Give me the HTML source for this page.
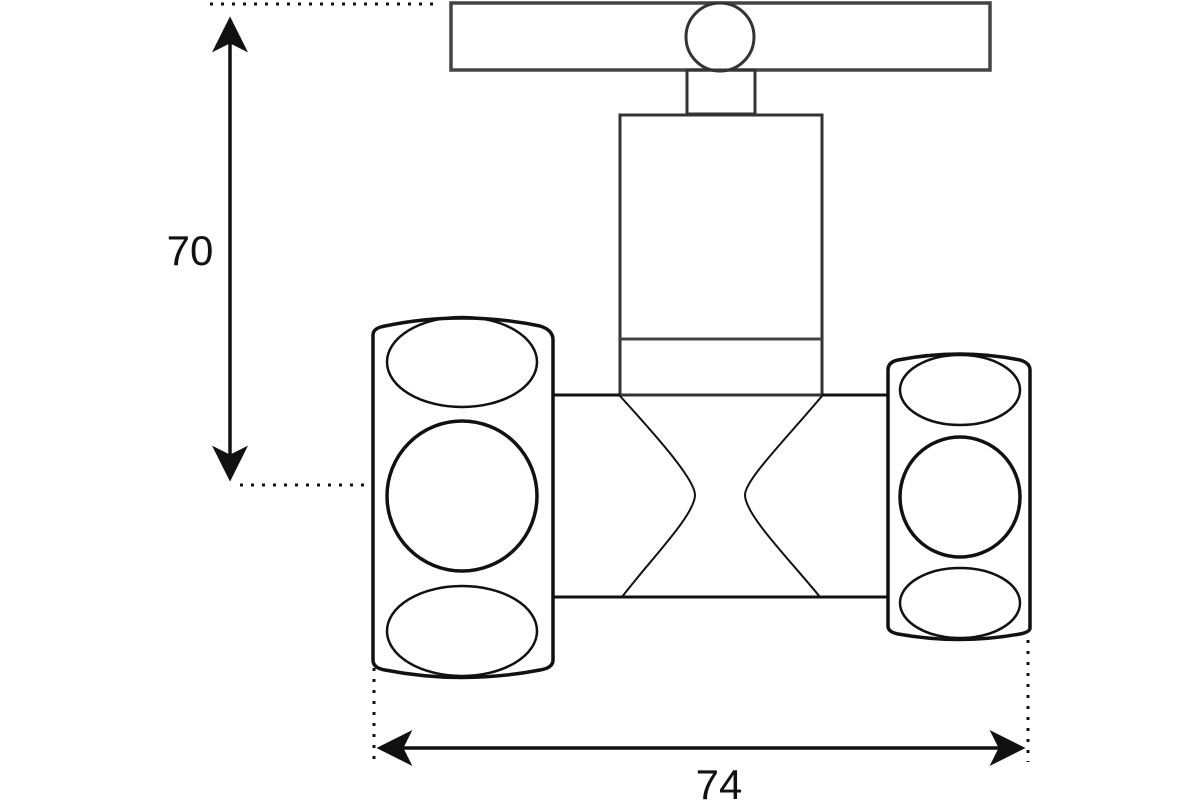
<!DOCTYPE html>
<html><head><style>body{margin:0;background:#fff}svg{display:block}</style></head><body>
<svg width="1200" height="800" viewBox="0 0 1200 800" xmlns="http://www.w3.org/2000/svg">
<defs>
<marker id="ah" viewBox="0 0 20 20" refX="18" refY="10" markerWidth="36" markerHeight="36" markerUnits="userSpaceOnUse" orient="auto">
<path d="M0,0 L20,10 L0,20 L5,10 Z" fill="#111"/></marker>
</defs>
<g fill="none">
<rect x="451" y="3" width="539" height="67" stroke="#444" stroke-width="3.5" fill="#fff"/>
<circle cx="720" cy="37" r="34" stroke="#333" stroke-width="3" fill="#fff"/>
<rect x="687" y="70" width="68" height="44" stroke="#333" stroke-width="3"/>
<rect x="620" y="115" width="202" height="280" stroke="#333" stroke-width="3"/>
<line x1="620" y1="339" x2="822" y2="339" stroke="#444" stroke-width="3"/>
<path d="M553 395 H620 M822 395 H888 M553 597 H888" stroke="#111" stroke-width="3"/>
<path d="M620 396 C660 440 695 480 695 495 C695 515 650 560 622 597" stroke="#111" stroke-width="2"/>
<path d="M822 396 C785 440 745 480 745 495 C745 515 790 560 820 597" stroke="#111" stroke-width="2"/>
<path d="M373 335 Q373 328 385 326 Q462 310 540 326 Q553 330 553 340 V660 Q553 668 540 670 Q462 685 385 670 Q373 668 373 660 Z" stroke="#111" stroke-width="3.5" fill="#fff"/>
<ellipse cx="462" cy="362" rx="75" ry="45" stroke="#111" stroke-width="2.5"/>
<circle cx="462" cy="496" r="75" stroke="#111" stroke-width="3.5"/>
<ellipse cx="462" cy="631" rx="75" ry="45" stroke="#111" stroke-width="2.5"/>
<path d="M888 370 Q888 362 898 360 Q960 348 1020 360 Q1030 363 1030 370 V628 Q1030 632 1020 634 Q960 645 898 634 Q888 632 888 626 Z" stroke="#111" stroke-width="3.5" fill="#fff"/>
<ellipse cx="960" cy="390" rx="60" ry="35" stroke="#111" stroke-width="2.5"/>
<circle cx="960" cy="497" r="60" stroke="#111" stroke-width="3.5"/>
<ellipse cx="960" cy="603" rx="60" ry="35" stroke="#111" stroke-width="2.5"/>
<g stroke="#111" stroke-width="3" stroke-dasharray="3 8">
<line x1="210" y1="4" x2="440" y2="4"/>
<line x1="240" y1="485" x2="366" y2="485"/>
<line x1="374" y1="668" x2="374" y2="762"/>
<line x1="1028" y1="640" x2="1028" y2="762"/>
</g>
<line x1="230" y1="250" x2="230" y2="20" stroke="#111" stroke-width="3.5" marker-end="url(#ah)"/>
<line x1="230" y1="250" x2="230" y2="478" stroke="#111" stroke-width="3.5" marker-end="url(#ah)"/>
<line x1="700" y1="748" x2="380" y2="748" stroke="#111" stroke-width="3.5" marker-end="url(#ah)"/>
<line x1="700" y1="748" x2="1022" y2="748" stroke="#111" stroke-width="3.5" marker-end="url(#ah)"/>
</g>
<text x="190" y="265" font-family="Liberation Sans, sans-serif" font-size="42" text-anchor="middle" fill="#111">70</text>
<text x="719" y="799" font-family="Liberation Sans, sans-serif" font-size="42" text-anchor="middle" fill="#111">74</text>
</svg>
</body></html>
